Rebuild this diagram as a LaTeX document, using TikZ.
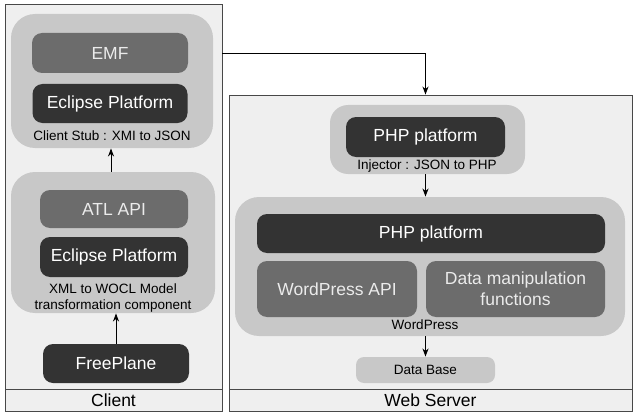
\documentclass[tikz,border=0pt]{standalone}
\usepackage{fontspec}
\setmainfont{Liberation Sans}
\usetikzlibrary{positioning,shapes,arrows,arrows.meta}
\definecolor{panelgray}{HTML}{EFEFEF}
\definecolor{edgegray}{HTML}{484848}
\definecolor{lightbox}{HTML}{C8C8C8}
\definecolor{darkbox}{HTML}{333333}
\definecolor{midbox}{HTML}{6C6C6C}
\newcommand{\bigtext}{\fontsize{17.5}{21}\selectfont}
\newcommand{\smalltext}{\fontsize{13.5}{16}\selectfont}
\begin{document}
\begin{tikzpicture}[x=1pt,y=-1pt,line width=0.9pt,>={Stealth[length=8pt,width=6pt,inset=2.5pt]},
	panel/.style={draw=edgegray, fill=panelgray, rectangle, inner sep=0pt},
	band/.style={panel, font=\bigtext},
	container/.style={fill=lightbox, rounded corners=24pt, inner sep=0pt},
	darkunit/.style={fill=darkbox, text=white, rounded corners=10pt, inner sep=0pt, font=\bigtext, align=center},
	midunit/.style={darkunit, fill=midbox, text=white!92!black},
	caption/.style={font=\smalltext, inner sep=0pt, align=center}]

		\useasboundingbox (0,0) rectangle (643,420);

		%the client side
		\node[panel, minimum width=217pt, minimum height=385pt] (client) at (113.5,196.5) {};
		\node[band, minimum width=217pt, minimum height=22pt] (clientband) at (113.5,400) {Client};

		\node[container, minimum width=202pt, minimum height=134pt] (stub) at (112,81) {};
		\node[midunit, minimum width=156pt, minimum height=40pt] (emf) at (110,53) {EMF};
		\node[darkunit, minimum width=155pt, minimum height=39pt] (eclipsea) at (110,103.5) {Eclipse Platform};
		\node[caption] (stublabel) at (112,136) {Client Stub : XMI to JSON};

		\node[container, minimum width=204pt, minimum height=141pt] (atl) at (113,242.5) {};
		\node[midunit, minimum width=148pt, minimum height=38pt] (atlapi) at (114,209) {ATL API};
		\node[darkunit, minimum width=148pt, minimum height=40pt] (eclipseb) at (114,257) {Eclipse Platform};
		\node[caption] (atllabel) at (113,298.5) {XML to WOCL Model\\transformation component};

		\node[darkunit, minimum width=146pt, minimum height=39pt] (freeplane) at (116,363.5) {FreePlane};

		\draw[->] (freeplane.north) -- (freeplane.north |- atl.south);
		\draw[->] (atl.north -| stub.center) ++(-1,0) coordinate (atltop) -- (atltop |- stub.south);

		%the web server side
		\node[panel, minimum width=403pt, minimum height=294pt] (server) at (430.5,242) {};
		\node[band, minimum width=403pt, minimum height=22pt] (serverband) at (430.5,400) {Web Server};

		\node[container, rounded corners=18pt, minimum width=195pt, minimum height=69pt] (injector) at (427.5,139.5) {};
		\node[darkunit, minimum width=159pt, minimum height=40pt] (phpa) at (425.5,137) {PHP platform};
		\node[caption] (injlabel) at (427,166) {Injector : JSON to PHP};

		\node[container, minimum width=390pt, minimum height=139pt] (wordpress) at (430,266.5) {};
		\node[darkunit, minimum width=348pt, minimum height=39pt] (phpb) at (431,233.5) {PHP platform};
		\node[midunit, minimum width=160pt, minimum height=56pt] (wpapi) at (337,289) {WordPress API};
		\node[midunit, minimum width=179pt, minimum height=56pt] (datafun) at (515.5,289) {Data manipulation\\functions};
		\node[caption] (wplabel) at (425,325) {WordPress};

		\node[fill=lightbox, rounded corners=8pt, minimum width=139pt, minimum height=26pt, font=\smalltext] (db) at (425.5,370) {Data Base};

		% connectors
		\draw[->] (emf.center -| client.east) -| (server.north -| phpa.center);
		\draw[->] (injector.south -| phpa.center) -- (wordpress.north -| phpa.center);
		\draw[->] (wordpress.south -| db.center) -- (db.north);

	\end{tikzpicture}
\end{document}
